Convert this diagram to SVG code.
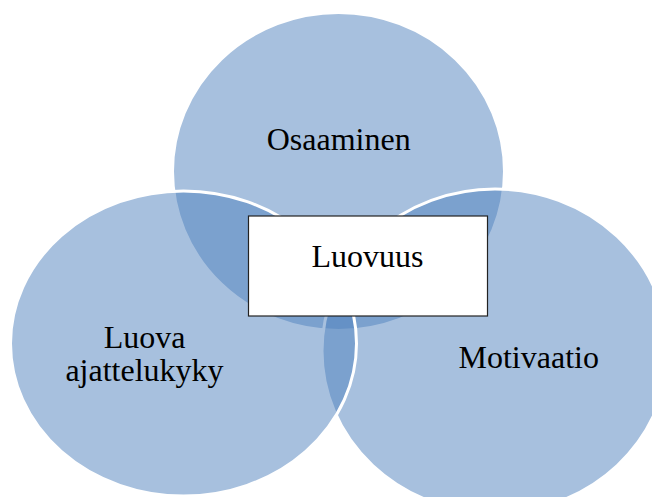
<svg xmlns="http://www.w3.org/2000/svg" width="652" height="497" viewBox="0 0 652 497">
<style>
.c{fill:#4f81bd;fill-opacity:0.5;stroke:#ffffff;stroke-width:3}
.t{font-family:"Liberation Serif","Times New Roman",serif;font-size:32px;fill:#000000;text-anchor:middle}
</style>
<rect width="652" height="497" fill="#ffffff"/>
<g id="osaaminen">
<ellipse class="c" cx="338.5" cy="171.5" rx="166" ry="159"/>
<text class="t" x="338.7" y="150">Osaaminen</text>
</g>
<g id="motivaatio">
<ellipse class="c" cx="495" cy="351" rx="173" ry="162"/>
<text class="t" x="528.7" y="368">Motivaatio</text>
</g>
<g id="luova-ajattelukyky">
<ellipse class="c" cx="183.5" cy="343.5" rx="173" ry="152.5"/>
<text class="t" x="144.5" y="348">Luova</text>
<text class="t" x="144.5" y="381">ajattelukyky</text>
</g>
<g id="luovuus">
<rect x="248.5" y="216" width="239" height="100" fill="#ffffff" stroke="#222222" stroke-width="1.2"/>
<text class="t" x="367.5" y="267">Luovuus</text>
</g>
<g id="connectors"/>
</svg>
